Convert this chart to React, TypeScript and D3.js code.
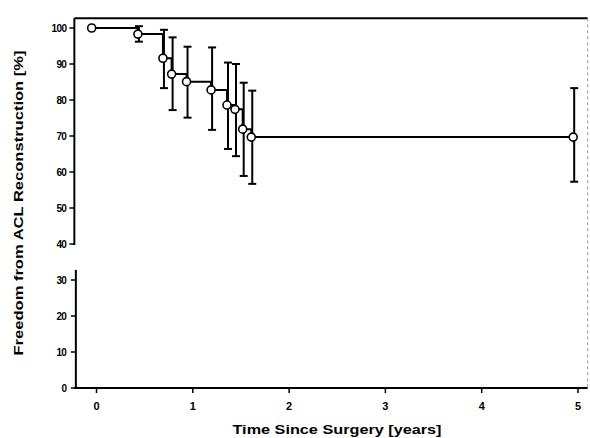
import React from "react";
import * as d3 from "d3";

const times = [-0.05, 0.43, 0.69, 0.78, 0.935, 1.19, 1.355, 1.438, 1.518, 1.607, 4.95];
const survival = [100, 98.3, 91.6, 87.2, 85.1, 82.8, 78.6, 77.4, 71.9, 69.7, 69.7];
const upper = [100, 100.5, 99.5, 97.4, 94.8, 94.6, 90.4, 90.0, 84.8, 82.6, 83.3];
const lower = [100, 96.2, 83.3, 77.2, 75.1, 71.7, 66.4, 64.4, 58.9, 56.7, 57.3];
const xTicks = [0, 1, 2, 3, 4, 5];
const yTicks = [0, 10, 20, 30, 40, 50, 60, 70, 80, 90, 100];
const xTitle = "Time Since Surgery [years]";
const yTitle = "Freedom from ACL Reconstruction [%]";

export default function App() {
  const W = 590, H = 438;
  const x = d3.scaleLinear().domain([0, 5]).range([96.5, 578]);
  const y = d3.scaleLinear().domain([0, 100]).range([388, 28]);
  const left = x(-0.23);
  const right = x(5.1);
  const bottom = y(0);
  const top = y(102.7);
  const breakHi = y(39.7);
  const breakLo = y(32.8);
  const pts = times.map((t, i) => [t, survival[i]] as [number, number]);
  const stepLine = d3
    .line<[number, number]>()
    .x((d) => x(d[0]))
    .y((d) => y(d[1]))
    .curve(d3.curveStepAfter);
  const font = "'Liberation Sans', Arial, sans-serif";
  return (
    <svg
      width={W}
      height={H}
      style={{ position: "absolute", left: 0, top: 0, background: "#fff" }}
      fontFamily={font}
    >
      <rect x={0} y={0} width={W} height={H} fill="#fff" />
      {/* frame */}
      <line x1={left} x2={right} y1={top} y2={top} stroke="#000" strokeWidth={2} />
      <line x1={right} x2={right} y1={top} y2={bottom} stroke="#999" strokeWidth={1} strokeDasharray="3,3" />
      <line x1={left} x2={left} y1={top} y2={breakHi} stroke="#000" strokeWidth={2} />
      <line x1={left + 1.5} x2={left + 1.5} y1={breakLo} y2={bottom} stroke="#000" strokeWidth={2} />
      <line x1={left} x2={right} y1={bottom} y2={bottom} stroke="#000" strokeWidth={2} />
      {/* y ticks */}
      {yTicks.map((v) => (
        <g key={v}>
          <line
            x1={left - 5}
            x2={left}
            y1={y(v)}
            y2={y(v)}
            stroke="#000"
            strokeWidth={1.5}
            transform={v < 35 ? "translate(1.5,0)" : undefined}
          />
          <text
            x={left - 8}
            y={y(v)}
            dy="0.35em"
            textAnchor="end"
            fontSize={10}
            fontWeight="bold"
            letterSpacing={-0.6}
          >
            {v}
          </text>
        </g>
      ))}
      {/* x ticks */}
      {xTicks.map((v) => (
        <g key={v}>
          <line x1={x(v)} x2={x(v)} y1={bottom} y2={bottom + 5} stroke="#000" strokeWidth={1.5} />
          <text x={x(v)} y={bottom + 22} textAnchor="middle" fontSize={11} fontWeight="bold">
            {v}
          </text>
        </g>
      ))}
      {/* titles */}
      <text
        x={337}
        y={434}
        textAnchor="middle"
        fontSize={13}
        fontWeight="bold"
        textLength={209}
        lengthAdjust="spacingAndGlyphs"
      >
        {xTitle}
      </text>
      <text
        transform={`translate(23,203) rotate(-90)`}
        textAnchor="middle"
        fontSize={13}
        fontWeight="bold"
        textLength={305}
        lengthAdjust="spacingAndGlyphs"
      >
        {yTitle}
      </text>
      {/* error bars */}
      {times.map((t, i) =>
        upper[i] - lower[i] > 0.1 ? (
          <g key={"e" + i} stroke="#000" strokeWidth={2}>
            <line x1={x(t) + 1} x2={x(t) + 1} y1={y(upper[i])} y2={y(lower[i])} />
            <line x1={x(t) - 3} x2={x(t) + 5} y1={y(upper[i])} y2={y(upper[i])} />
            <line x1={x(t) - 3} x2={x(t) + 5} y1={y(lower[i])} y2={y(lower[i])} />
          </g>
        ) : null
      )}
      {/* step line */}
      <path d={stepLine(pts) || ""} fill="none" stroke="#000" strokeWidth={2} />
      {/* markers */}
      {pts.map((d, i) => (
        <circle key={"c" + i} cx={x(d[0])} cy={y(d[1])} r={4} fill="#fff" stroke="#000" strokeWidth={1.6} />
      ))}
    </svg>
  );
}
